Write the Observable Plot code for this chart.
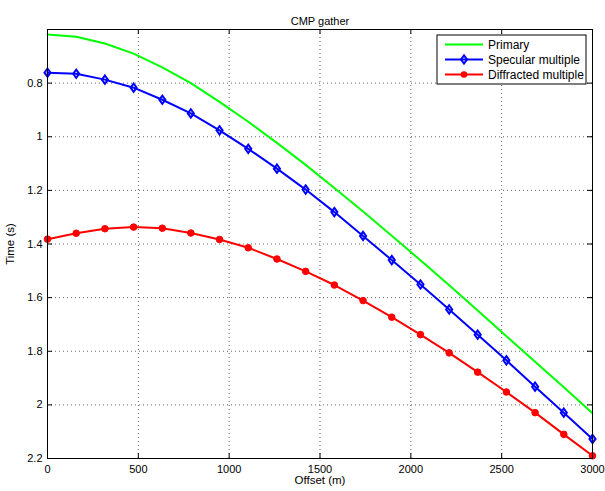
<!DOCTYPE html>
<html>
<head>
<meta charset="utf-8">
<script src="https://cdn.jsdelivr.net/npm/d3@7"></script>
<script src="https://cdn.jsdelivr.net/npm/@observablehq/plot@0.6"></script>
<style>
  html, body { margin: 0; padding: 0; background: #fff; }
  #chart svg { display: block; }
</style>
</head>
<body>
<div id="chart"></div>
<script>
// ---- data ----
const offsets = [0, 158, 316, 474, 632, 789, 947, 1105, 1263, 1421, 1579, 1737, 1895, 2053, 2211, 2368, 2526, 2684, 2842, 3000];
const primary = [0.619, 0.627, 0.652, 0.690, 0.741, 0.800, 0.870, 0.944, 1.023, 1.105, 1.191, 1.279, 1.369, 1.461, 1.554, 1.648, 1.744, 1.839, 1.934, 2.031];
const specular = [0.761, 0.765, 0.787, 0.817, 0.862, 0.913, 0.976, 1.045, 1.119, 1.197, 1.281, 1.370, 1.460, 1.551, 1.644, 1.738, 1.834, 1.932, 2.029, 2.127];
const diffracted = [1.382, 1.360, 1.343, 1.337, 1.341, 1.359, 1.383, 1.414, 1.456, 1.502, 1.553, 1.611, 1.673, 1.738, 1.806, 1.878, 1.952, 2.029, 2.110, 2.190];
const seriesNames = ["Primary", "Specular multiple", "Diffracted multiple"];
const seriesColors = ["#00ff00", "#0000ff", "#ff0000"];
const xTicks = [0, 500, 1000, 1500, 2000, 2500, 3000];
const yTicks = [0.6, 0.8, 1, 1.2, 1.4, 1.6, 1.8, 2, 2.2];
const yLabelTicks = [0.8, 1, 1.2, 1.4, 1.6, 1.8, 2, 2.2];
const xGrid = [500, 1000, 1500, 2000, 2500];
const yGrid = [0.8, 1, 1.2, 1.4, 1.6, 1.8, 2];
const titleText = "CMP gather";
const xLabel = "Offset (m)";
const yLabel = "Time (s)";

// ---- layout ----
const W = 605, H = 491;
const mL = 47, mR = 13, mT = 29, mB = 33;
const pw = W - mL - mR, ph = H - mT - mB;

const rows = (vals) => offsets.map((x, i) => ({x, t: vals[i]}));
const P = rows(primary), S = rows(specular), D = rows(diffracted);

const font = "'Liberation Sans', Arial, Helvetica, sans-serif";

// MATLAB-like diamond (wider than d3's)
const diamondSym = {
  draw(ctx, size) {
    const r = Math.sqrt(size / Math.PI);
    const w = r * 0.95, h = r * 1.3;
    ctx.moveTo(0, -h); ctx.lineTo(w, 0); ctx.lineTo(0, h); ctx.lineTo(-w, 0); ctx.closePath();
  }
};
const dR = 3.2, cR = 3.3;

const chart = Plot.plot({
  width: W, height: H,
  marginLeft: mL, marginRight: mR, marginTop: mT, marginBottom: mB,
  style: {fontFamily: font, fontSize: "11px", background: "#fff", color: "#000"},
  x: {domain: [0, 3000]},
  y: {domain: [0.6, 2.2], reverse: true},
  marks: [
    Plot.ruleX(xGrid, {x: d => d, stroke: "#666", strokeDasharray: "1,3", strokeWidth: 1}),
    Plot.ruleY(yGrid, {y: d => d, stroke: "#666", strokeDasharray: "1,3", strokeWidth: 1}),
    Plot.line(P, {x: "x", y: "t", stroke: seriesColors[0], strokeWidth: 2}),
    Plot.line(S, {x: "x", y: "t", stroke: seriesColors[1], strokeWidth: 2}),
    Plot.dot(S, {x: "x", y: "t", symbol: diamondSym, r: dR, stroke: seriesColors[1], strokeWidth: 2, fill: "none"}),
    Plot.line(D, {x: "x", y: "t", stroke: seriesColors[2], strokeWidth: 2}),
    Plot.dot(D, {x: "x", y: "t", r: cR, fill: seriesColors[2], stroke: seriesColors[2], strokeWidth: 1}),
    Plot.frame({stroke: "#000", strokeWidth: 1}),
    // inward ticks on all four sides
    Plot.ruleX(xTicks, {x: d => d, stroke: "#000", insetTop: ph - 5}),
    Plot.ruleX(xTicks, {x: d => d, stroke: "#000", insetBottom: ph - 5}),
    Plot.ruleY(yTicks, {y: d => d, stroke: "#000", insetRight: pw - 5}),
    Plot.ruleY(yTicks, {y: d => d, stroke: "#000", insetLeft: pw - 5}),
    Plot.axisX(xTicks, {tickSize: 0, tickPadding: 7, tickFormat: d => String(d), label: null}),
    Plot.axisY(yLabelTicks, {tickSize: 0, tickPadding: 5, tickFormat: d => String(d), label: null}),
    Plot.text([titleText], {text: d => d, frameAnchor: "top", dy: -12, textAnchor: "middle", fontSize: 11}),
    Plot.text([xLabel], {text: d => d, frameAnchor: "bottom", dy: 25.5, textAnchor: "middle", fontSize: 11.5}),
    Plot.text([yLabel], {text: d => d, frameAnchor: "left", dx: -37, rotate: -90, textAnchor: "middle", fontSize: 11.5})
  ]
});
document.getElementById("chart").appendChild(chart);

// ---- legend (MATLAB-style box inside the axes, top-right) ----
const svg = d3.select(chart);
const bw = 149, bh = 49;
const bx = W - mR - 6 - bw, by = mT + 6;
const lg = svg.append("g").attr("font-family", font).attr("font-size", 12).attr("text-anchor", "start");
lg.append("rect").attr("x", bx).attr("y", by).attr("width", bw).attr("height", bh)
  .attr("fill", "#fff").attr("stroke", "#000").attr("stroke-width", 1);
seriesNames.forEach((name, i) => {
  const cy = by + 9.5 + i * 15;
  const x1 = bx + 8, x2 = bx + 46, xm = (x1 + x2) / 2;
  lg.append("line").attr("x1", x1).attr("x2", x2).attr("y1", cy).attr("y2", cy)
    .attr("stroke", seriesColors[i]).attr("stroke-width", 2);
  if (i === 1) {
    lg.append("path").attr("d", d3.symbol(diamondSym, dR * dR * Math.PI)())
      .attr("transform", `translate(${xm},${cy})`)
      .attr("fill", "none").attr("stroke", seriesColors[i]).attr("stroke-width", 2);
  } else if (i === 2) {
    lg.append("circle").attr("cx", xm).attr("cy", cy).attr("r", cR)
      .attr("fill", seriesColors[i]);
  }
  lg.append("text").attr("x", bx + 51).attr("y", cy).attr("dy", "0.35em")
    .attr("text-anchor", "start").attr("fill", "#000").text(name);
});
</script>
</body>
</html>
